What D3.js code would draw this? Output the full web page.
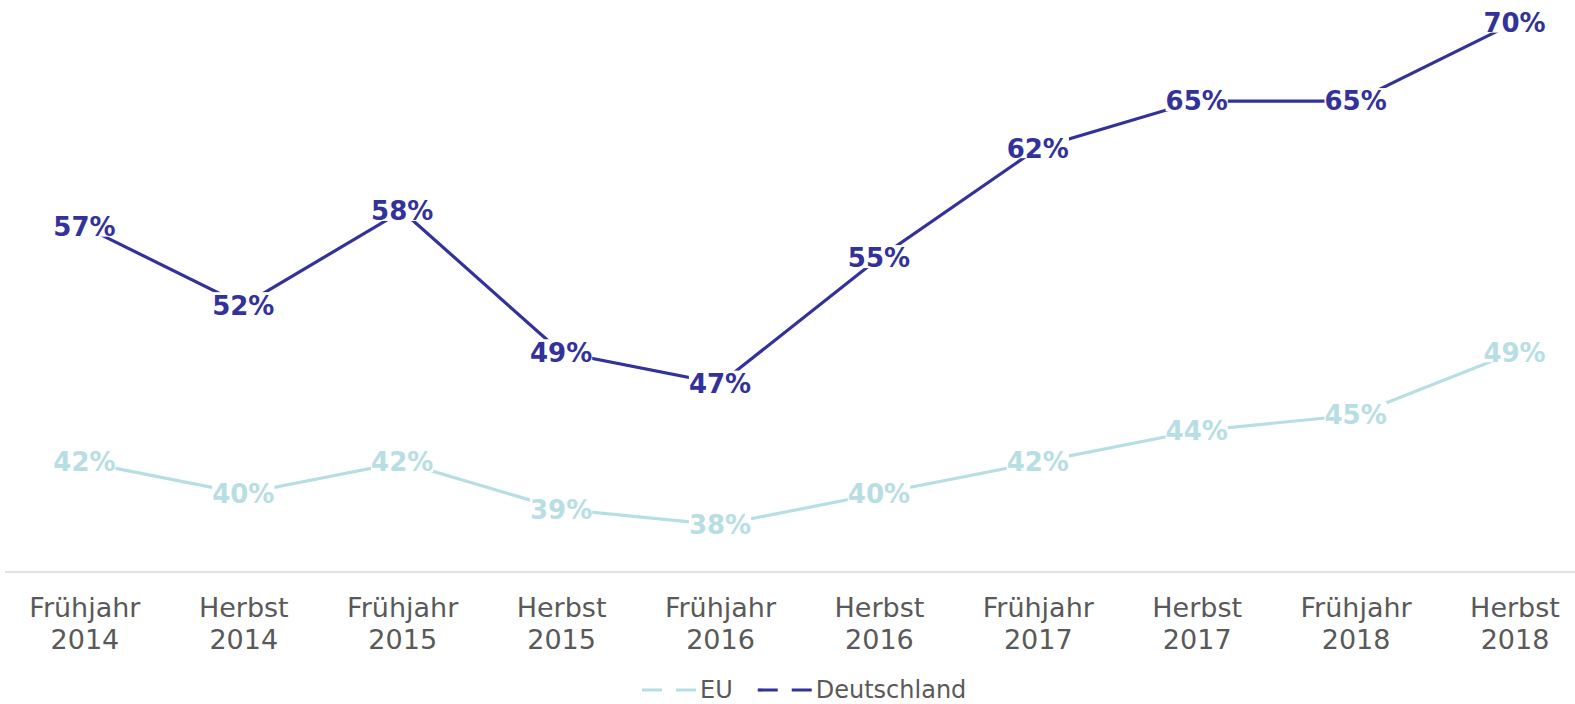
<!DOCTYPE html>
<html>
<head>
<meta charset="utf-8">
<script src="https://cdnjs.cloudflare.com/ajax/libs/d3/7.8.5/d3.min.js"></script>
<style>
  body { margin: 0; background: #fff; }
  svg, svg text { font-family: "DejaVu Sans", Verdana, sans-serif; }
  svg { display: block; }
  .axisLabel { fill: #595959; font-size: 27px; }
  .valLabel { font-size: 26px; font-weight: bold; }
  .legendTxt { fill: #595959; font-size: 24px; }
</style>
</head>
<body>
<div id="chart"></div>
<script>
// categories (two lines per tick)
var seasons = ['Frühjahr', 'Herbst', 'Frühjahr', 'Herbst', 'Frühjahr', 'Herbst', 'Frühjahr', 'Herbst', 'Frühjahr', 'Herbst'];
var years = ['2014', '2014', '2015', '2015', '2016', '2016', '2017', '2017', '2018', '2018'];

// values in percent
var euValues = [42, 40, 42, 39, 38, 40, 42, 44, 45, 49];
var deValues = [57, 52, 58, 49, 47, 55, 62, 65, 65, 70];

var seriesNames = ['EU', 'Deutschland'];
var colors = { EU: '#b7dee2', Deutschland: '#32329a' };

var width = 1575,
    height = 704;

var cats = seasons.map(function(s, i) { return i; });

var xScale = d3.scalePoint()
  .domain(cats)
  .range([84.4, 1514.5]);

var yScale = d3.scaleLinear()
  .domain([35, 70])
  .range([572, 22.6]);

var line = d3.line()
  .x(function(d) { return xScale(d.i); })
  .y(function(d) { return yScale(d.v); });

var svg = d3.select('#chart')
  .append('svg')
  .attr('width', width)
  .attr('height', height);

// x axis
var xAxis = d3.axisBottom(xScale)
  .tickSize(0)
  .tickPadding(0)
  .tickFormat(function() { return ''; });

var axisG = svg.append('g')
  .attr('class', 'x axis')
  .attr('transform', 'translate(0,' + yScale(35) + ')')
  .call(xAxis)
  .attr('font-family', null)
  .attr('font-size', null);

axisG.select('.domain').remove();

axisG.append('line')
  .attr('x1', 5)
  .attr('x2', width)
  .attr('y1', 0)
  .attr('y2', 0)
  .attr('stroke', '#d9d9d9')
  .attr('stroke-width', 1.6);

axisG.selectAll('.tick text').remove();

var tickTxt = axisG.selectAll('.tick')
  .append('text')
  .attr('class', 'axisLabel')
  .attr('text-anchor', 'middle');

tickTxt.append('tspan')
  .attr('x', 0)
  .attr('y', 45.3)
  .text(function(d) { return seasons[d]; });

tickTxt.append('tspan')
  .attr('x', 0)
  .attr('y', 77.3)
  .text(function(d) { return years[d]; });

// series
var series = [
  { name: 'EU', values: euValues },
  { name: 'Deutschland', values: deValues }
];

series.forEach(function(s) {
  var pts = s.values.map(function(v, i) { return { i: i, v: v }; });

  var g = svg.append('g')
    .attr('class', 'series');

  g.append('path')
    .datum(pts)
    .attr('fill', 'none')
    .attr('stroke', colors[s.name])
    .attr('stroke-width', 3.2)
    .attr('d', line);

  var lbl = g.selectAll('g.lbl')
    .data(pts)
    .enter()
    .append('g')
    .attr('class', 'lbl')
    .attr('transform', function(d) {
      return 'translate(' + xScale(d.i) + ',' + yScale(d.v) + ')';
    });

  var bg = lbl.append('rect')
    .attr('fill', '#fff');

  lbl.append('text')
    .attr('class', 'valLabel')
    .attr('text-anchor', 'middle')
    .attr('dy', '0.36em')
    .attr('fill', colors[s.name])
    .text(function(d) { return d.v + '%'; });

  bg.each(function() {
    var w = d3.select(this.parentNode).select('text').node().getComputedTextLength();
    d3.select(this)
      .attr('x', -w / 2)
      .attr('width', w)
      .attr('y', -13)
      .attr('height', 23);
  });
});

// legend
var legend = svg.append('g')
  .attr('class', 'legend')
  .attr('transform', 'translate(642,690)');

var lx = 0;
seriesNames.forEach(function(name) {
  legend.append('line')
    .attr('x1', lx)
    .attr('x2', lx + 54)
    .attr('y1', 0)
    .attr('y2', 0)
    .attr('stroke', colors[name])
    .attr('stroke-width', 3.2)
    .attr('stroke-dasharray', '20,14');

  var t = legend.append('text')
    .attr('class', 'legendTxt')
    .attr('x', lx + 58)
    .attr('y', 8)
    .text(name);

  lx += 58 + t.node().getComputedTextLength() + 25;
});
</script>
</body>
</html>
